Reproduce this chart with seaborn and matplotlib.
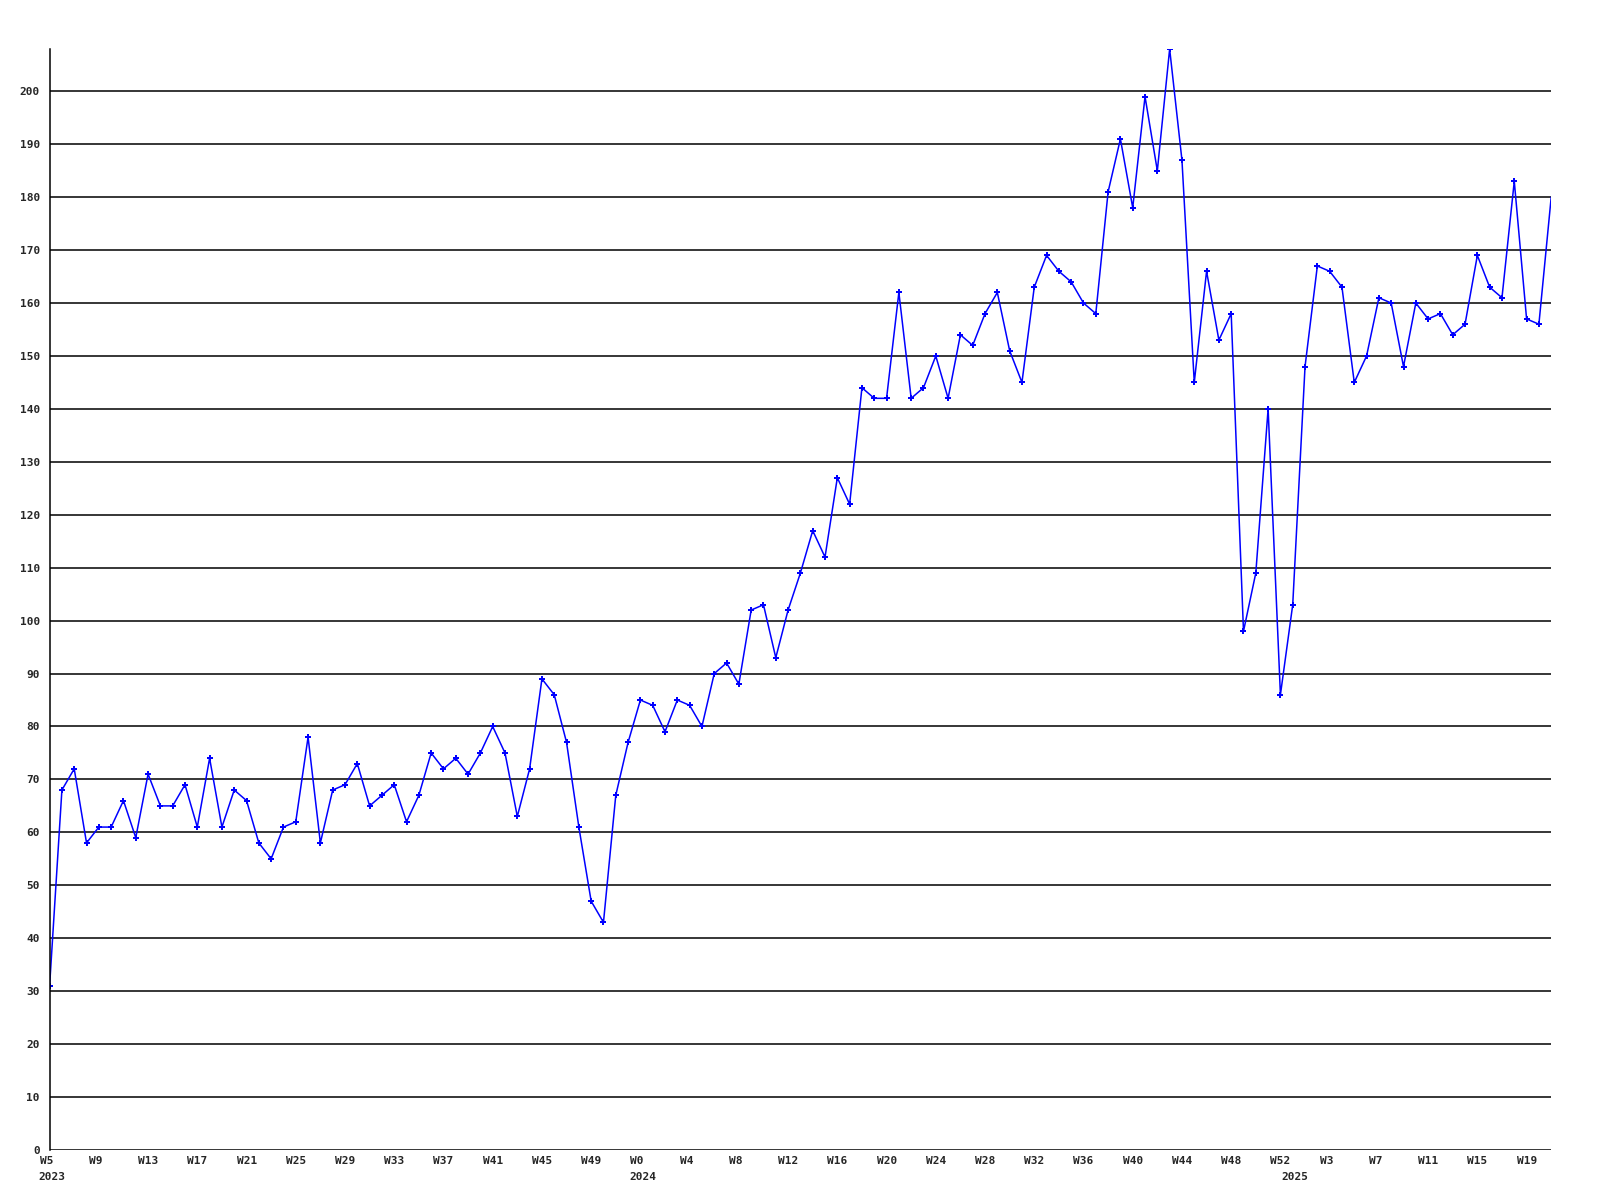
import matplotlib
matplotlib.use('Agg')
import matplotlib.pyplot as plt
import seaborn as sns
import pandas as pd

# weekly counts, 2023 W5 .. 2025 W21
weeks_2023 = list(range(5, 53))
weeks_2024 = list(range(0, 53))
weeks_2025 = list(range(0, 22))

values_2023 = [31, 68, 72, 58, 61, 61, 66, 59, 71, 65, 65, 69, 61, 74, 61, 68,
               66, 58, 55, 61, 62, 78, 58, 68, 69, 73, 65, 67, 69, 62, 67, 75,
               72, 74, 71, 75, 80, 75, 63, 72, 89, 86, 77, 61, 47, 43, 67, 77]
values_2024 = [85, 84, 79, 85, 84, 80, 90, 92, 88, 102, 103, 93, 102, 109, 117,
               112, 127, 122, 144, 142, 142, 162, 142, 144, 150, 142, 154, 152,
               158, 162, 151, 145, 163, 169, 166, 164, 160, 158, 181, 191, 178,
               199, 185, 208, 187, 145, 166, 153, 158, 98, 109, 140, 86]
values_2025 = [103, 148, 167, 166, 163, 145, 150, 161, 160, 148, 160, 157, 158,
               154, 156, 169, 163, 161, 183, 157, 156, 180]

years = [2023] * len(weeks_2023) + [2024] * len(weeks_2024) + [2025] * len(weeks_2025)
weeks = weeks_2023 + weeks_2024 + weeks_2025
values = values_2023 + values_2024 + values_2025

df = pd.DataFrame({'idx': range(len(values)), 'year': years, 'week': weeks, 'count': values})

sns.set_style('white')
plt.rcParams['font.family'] = ['DejaVu Sans Mono']

fig = plt.figure(figsize=(16, 12), dpi=100)
ax = fig.add_axes([0.031, 0.0417, 0.9385, 0.9175])

# last point sits on the right edge and has no marker in the original
sns.lineplot(data=df, x='idx', y='count', color='#0000ff', linewidth=1.1,
             marker='P', markersize=5, markeredgewidth=0,
             markevery=list(range(len(values) - 1)), ax=ax)

ax.set_xlim(0, len(values) - 1)
ax.set_ylim(0, max(values))
ax.set_yticks(range(0, 201, 10))
ax.set_yticklabels([str(v) for v in range(0, 201, 10)], fontsize=8, fontweight='bold')
for y in range(0, 201, 10):
    ax.axhline(y, color='black', linewidth=1.1, zorder=0)

# week labels every 4 weeks, left edge a bit left of the point
ax.set_xticks([])
for i in range(0, len(values), 4):
    ax.annotate('W%d' % df['week'][i], xy=(i, 0), xycoords=('data', 'axes fraction'),
                xytext=(-10, -11), textcoords='offset pixels',
                ha='left', va='center', fontsize=8, fontweight='bold')

# year labels under the first week of each year
for yr in [2023, 2024, 2025]:
    first = df.index[df['year'] == yr][0]
    ax.annotate(str(yr), xy=(first, 0), xycoords=('data', 'axes fraction'),
                xytext=(-11, -27), textcoords='offset pixels',
                ha='left', va='center', fontsize=8, fontweight='bold')

ax.tick_params(axis='both', length=0, pad=7)
ax.set_xlabel('')
ax.set_ylabel('')
for side in ['top', 'right', 'bottom']:
    ax.spines[side].set_visible(False)
ax.spines['left'].set_color('black')
ax.spines['left'].set_linewidth(1.1)

fig.savefig('out.png', dpi=100)
